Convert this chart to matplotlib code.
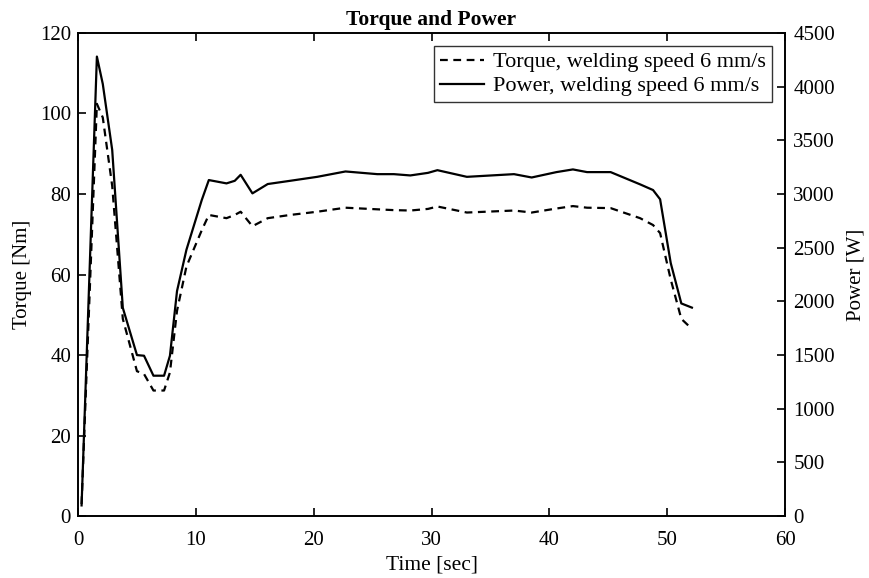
import matplotlib.pyplot as plt

# Time samples (sec), shared by both curves.
time = [0.3, 1.6, 2.1, 2.9, 3.8, 5.0, 5.6, 6.4, 7.3, 7.8, 8.4, 9.2, 10.5,
        11.1, 12.6, 13.3, 13.8, 14.8, 16.1, 18.0, 20.3, 22.7, 25.4, 26.8,
        28.2, 29.7, 30.5, 33.0, 37.0, 38.5, 40.6, 42.0, 43.2, 45.2, 47.7,
        48.8, 49.4, 50.3, 51.2, 52.1]

# Torque [Nm], welding speed 6 mm/s.
torque = [3, 102.4, 99, 82, 49, 36, 35.3, 31.2, 31.2, 35.7, 51, 62, 71,
          74.8, 74, 74.8, 75.6, 72, 74, 74.8, 75.6, 76.6, 76.2, 76,
          75.9, 76.3, 76.9, 75.4, 75.9, 75.4, 76.4, 77, 76.6, 76.5, 74,
          72.3, 70.3, 58.8, 49, 46.5]

# Power [W], welding speed 6 mm/s.
power = [100, 4280, 4025, 3410, 1940, 1500, 1494, 1308, 1308, 1494, 2096,
         2481, 2944, 3130, 3099, 3123, 3179, 3006, 3093, 3123, 3160, 3210,
         3185, 3185, 3173, 3197, 3222, 3160, 3185, 3154, 3204, 3229, 3204,
         3204, 3090, 3037, 2951, 2358, 1981, 1942]

plt.rcParams['font.family'] = ['Liberation Serif', 'DejaVu Serif']
plt.rcParams['font.size'] = 15

fig = plt.figure(figsize=(8.7, 5.78), dpi=100)
ax = fig.add_axes([0.0897, 0.107, 0.8126, 0.836])
ax2 = ax.twinx()

l1, = ax.plot(time, torque, 'k--', linewidth=1.6, dashes=(3.5, 2.5),
              label='Torque, welding speed 6 mm/s')
l2, = ax2.plot(time, power, 'k-', linewidth=1.6,
               label='Power, welding speed 6 mm/s')

ax.set_xlim(0, 60)
ax.set_ylim(0, 120)
ax2.set_ylim(0, 4500)
ax.set_xticks(range(0, 61, 10))
ax.set_yticks(range(0, 121, 20))
ax2.set_yticks(range(0, 4501, 500))

ax.tick_params(direction='in', top=True, length=6, width=1.2, pad=5,
               labelsize=15)
ax.tick_params(axis='x', pad=11)
ax.tick_params(axis='y', right=False)
ax2.tick_params(direction='in', length=6, width=1.2, pad=6, labelsize=15)
for a in (ax, ax2):
    for s in a.spines.values():
        s.set_linewidth(1.2)

ax.set_xlabel('Time [sec]', fontsize=15.5, labelpad=4)
ax.set_ylabel('Torque [Nm]', fontsize=15, labelpad=6)
ax2.set_ylabel('Power [W]', fontsize=15, labelpad=8)
ax.set_title('Torque and Power', fontsize=15.5, fontweight='bold', pad=6)

leg = ax2.legend(handles=[l1, l2], loc='upper right', fontsize=16,
                 frameon=True, fancybox=False, edgecolor='black',
                 handlelength=2.0, handletextpad=0.4, borderpad=0.25,
                 labelspacing=0.15, borderaxespad=0.6)
leg.get_frame().set_linewidth(1.0)

fig.savefig('out.png', dpi=100)
